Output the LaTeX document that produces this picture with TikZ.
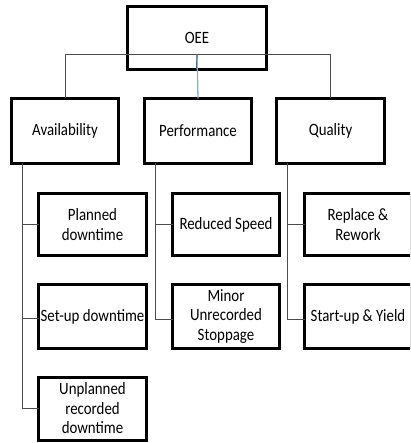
\documentclass[tikz,border=0pt]{standalone}
\usepackage{fontspec}
\setmainfont{Carlito}[FakeStretch=0.86]
\begin{document}
\begin{tikzpicture}[x=1bp,y=-1bp,
  box/.style={draw=black,line width=3bp,fill=white,outer sep=0pt,inner sep=1bp,
    align=center,font=\fontsize{17.3bp}{19.5bp}\selectfont},
  conn/.style={draw=black!70,line width=1bp},
  stem/.style={draw=black!75,line width=1.8bp},
  bluestem/.style={draw={rgb,255:red,140;green,175;blue,210},line width=1.3bp}]
\useasboundingbox (0,0) rectangle (410,443);
\clip (0,0) rectangle (410,443);
% nodes
\node[box,minimum width=139bp,minimum height=63bp] (oee) at (197,38) {OEE};
\node[box,minimum width=107bp,minimum height=65bp] (avail) at (65,131) {Availability};
\node[box,minimum width=107bp,minimum height=65bp] (perf) at (198,131) {Performance};
\node[box,minimum width=108bp,minimum height=65bp] (qual) at (330.5,131) {Quality};
\node[box,minimum width=108bp,minimum height=62bp] (planned) at (92.5,224.5) {Planned\\downtime};
\node[box,minimum width=107bp,minimum height=62bp] (reduced) at (226,224.5) {Reduced Speed};
\node[box,minimum width=107bp,minimum height=62bp] (replace) at (358,224.5) {Replace \&\\Rework};
\node[box,minimum width=108bp,minimum height=64bp] (setup) at (92.5,316.5) {};
\node[font=\fontsize{17.3bp}{19.5bp}\selectfont,inner sep=0pt] (setuptext) at (setup.center) {Set-up downtime};
\node[box,minimum width=107bp,minimum height=64bp] (minor) at (226,316.5) {Minor\\Unrecorded\\Stoppage};
\node[box,minimum width=107bp,minimum height=64bp] (startup) at (358,316.5) {Start-up \& Yield};
\node[box,minimum width=108bp,minimum height=63bp] (unplanned) at (92.5,408.5) {Unplanned\\recorded\\downtime};
% top connectors
\coordinate (bus) at ([yshift=15bp]oee.south);
\draw[stem] (oee.south) -- (bus);
\draw[conn] (avail.north) |- (bus) -| (qual.north);
\draw[bluestem] (bus) -- (perf.north);
% branch connectors
\draw[conn] ([xshift=11bp]avail.south west) |- (planned.west);
\draw[conn] ([xshift=11bp]avail.south west) |- ([yshift=-1.5bp]setup.west);
\draw[conn] ([xshift=11bp]avail.south west) |- (unplanned.west);
\draw[conn] ([xshift=11bp]perf.south west) |- (reduced.west);
\draw[conn] ([xshift=11bp]perf.south west) |- ([yshift=-3bp]minor.west);
\draw[conn] ([xshift=11bp]qual.south west) |- (replace.west);
\draw[conn] ([xshift=11bp]qual.south west) |- ([yshift=-3bp]startup.west);
\end{tikzpicture}
\end{document}
